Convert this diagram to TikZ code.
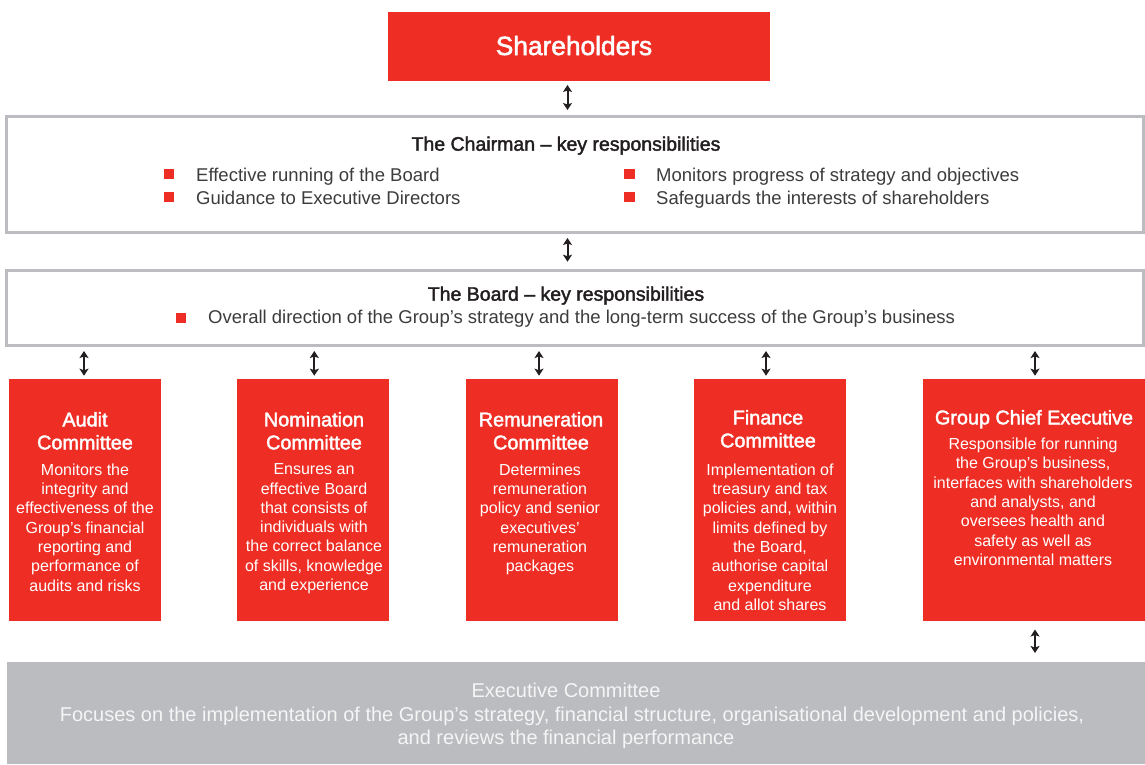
\documentclass[tikz,border=0pt]{standalone}
\usepackage{fontspec}
\setmainfont{Liberation Sans}
\newfontfamily\medfont[FakeBold=2]{Liberation Sans}
\usetikzlibrary{arrows.meta}

\definecolor{brandred}{HTML}{EE2E24}
\definecolor{framegray}{HTML}{BCBDC0}
\definecolor{execgray}{HTML}{BBBCBF}
\definecolor{inkdark}{HTML}{231F20}
\definecolor{inktext}{HTML}{3C3C3C}
\definecolor{execink}{HTML}{F5F5F6}

\begin{document}
\begin{tikzpicture}[x=1pt,y=-1pt,
  redbox/.style={fill=brandred, draw=none, inner sep=0pt, outer sep=0pt, anchor=north west},
  framebox/.style={draw=framegray, line width=3pt, fill=white, inner sep=0pt, outer sep=0pt, anchor=north west},
  bulletsq/.style={fill=brandred, draw=none, inner sep=0pt, outer sep=0pt, minimum width=10.5pt, minimum height=10pt},
  headtext/.style={font=\medfont\fontsize{19.5}{23}\selectfont, text=inkdark, anchor=base, inner sep=0pt},
  itemtext/.style={font=\fontsize{18.5}{22.5}\selectfont, text=inktext, anchor=base west, inner sep=0pt},
  comtitle/.style={font=\medfont\fontsize{19.8}{23}\selectfont, text=white, align=center, anchor=north, inner sep=0pt},
  combody/.style={font=\fontsize{16}{19.3}\selectfont, text=white, align=center, anchor=north, inner sep=0pt},
  exectext/.style={font=\fontsize{20}{23}\selectfont, text=execink, anchor=base, inner sep=0pt},
  twoway/.style={draw=inkdark, line width=2pt, {Stealth[length=7pt,width=9pt,inset=1.5pt]}-{Stealth[length=7pt,width=9pt,inset=1.5pt]}},
]
\useasboundingbox (0,0) rectangle (1145,764);

% Shareholders
\node[redbox, minimum width=382pt, minimum height=69pt] (share) at (388,12) {};
\node[font=\medfont\fontsize{26.3}{30}\selectfont, text=white, anchor=base, inner sep=0pt] (sharelabel) at (574,55) {Shareholders};

% Chairman
\node[framebox, minimum width=1137pt, minimum height=116pt] (chair) at (6.5,116) {};
\node[headtext] (chairtitle) at (566,150.7) {The Chairman – key responsibilities};
\node[bulletsq] (cb1) at (169,174) {};
\node[bulletsq] (cb2) at (169,196.7) {};
\node[bulletsq] (cb3) at (629.3,174) {};
\node[bulletsq] (cb4) at (629.3,196.7) {};
\node[itemtext] (ci1) at (196,181) {Effective running of the Board};
\node[itemtext] (ci2) at (196,204) {Guidance to Executive Directors};
\node[itemtext] (ci3) at (656,181) {Monitors progress of strategy and objectives};
\node[itemtext] (ci4) at (656,204) {Safeguards the interests of shareholders};

% Board
\node[framebox, minimum width=1137pt, minimum height=75pt] (board) at (6.5,270.5) {};
\node[headtext] (boardtitle) at (566,300.7) {The Board – key responsibilities};
\node[bulletsq] (bb1) at (181,318.3) {};
\node[itemtext] (bi1) at (208,323.5) {Overall direction of the Group’s strategy and the long-term success of the Group’s business};

% Committees
\node[redbox, minimum width=152pt, minimum height=241.5pt] (audit) at (9,379) {};
\node[redbox, minimum width=152pt, minimum height=241.5pt] (nom) at (237,379) {};
\node[redbox, minimum width=152pt, minimum height=241.5pt] (rem) at (466,379) {};
\node[redbox, minimum width=152pt, minimum height=241.5pt] (fin) at (694,379) {};
\node[redbox, minimum width=222pt, minimum height=241.5pt] (gce) at (923,379) {};

\node[comtitle] (audittitle) at (85,411.8) {Audit\\Committee};
\node[combody] (auditbody) at (85,463.5) {Monitors the\\integrity and\\effectiveness of the\\Group’s financial\\reporting and\\performance of\\audits and risks};

\node[comtitle] (nomtitle) at (314,411.8) {Nomination\\Committee};
\node[combody] (nombody) at (314,463.5) {Ensures an\\effective Board\\that consists of\\individuals with\\the correct balance\\of skills, knowledge\\and experience};

\node[comtitle] (remtitle) at (541,411.8) {Remuneration\\Committee};
\node[combody] (rembody) at (540,463.5) {Determines\\remuneration\\policy and senior\\executives’\\remuneration\\packages};

\node[comtitle] (fintitle) at (768,409.8) {Finance\\Committee};
\node[combody] (finbody) at (770,463.5) {Implementation of\\treasury and tax\\policies and, within\\limits defined by\\the Board,\\authorise capital\\expenditure\\and allot shares};

\node[comtitle] (gcetitle) at (1034,409.8) {Group Chief Executive};
\node[combody] (gcebody) at (1033,437.8) {Responsible for running\\the Group’s business,\\interfaces with shareholders\\and analysts, and\\oversees health and\\safety as well as\\environmental matters};

% Executive Committee
\node[fill=execgray, draw=none, inner sep=0pt, outer sep=0pt, anchor=north west, minimum width=1138pt, minimum height=102pt] (exec) at (7,662) {};
\node[exectext] (exectitle) at (566,697.7) {Executive Committee};
\node[exectext] (execl1) at (572,721) {Focuses on the implementation of the Group’s strategy, financial structure, organisational development and policies,};
\node[exectext] (execl2) at (566,744) {and reviews the financial performance};

% Connectors
\coordinate (spine) at (567.5,0);
\draw[twoway, shorten <=4pt, shorten >=6pt] (share.south -| spine) -- (chair.north -| spine);
\draw[twoway, shorten <=6pt, shorten >=8.8pt] (chair.south -| spine) -- (board.north -| spine);
\draw[twoway, shorten <=5.5pt, shorten >=3.3pt] ([xshift=-1pt]board.south -| audit.north) -- ([xshift=-1pt]audit.north);
\draw[twoway, shorten <=5.5pt, shorten >=3.3pt] ([xshift=1.3pt]board.south -| nom.north) -- ([xshift=1.3pt]nom.north);
\draw[twoway, shorten <=5.5pt, shorten >=3.3pt] ([xshift=-3pt]board.south -| rem.north) -- ([xshift=-3pt]rem.north);
\draw[twoway, shorten <=5.5pt, shorten >=3.3pt] ([xshift=-4pt]board.south -| fin.north) -- ([xshift=-4pt]fin.north);
\draw[twoway, shorten <=5.5pt, shorten >=3.3pt] ([xshift=1pt]board.south -| gce.north) -- ([xshift=1pt]gce.north);
\draw[twoway, shorten <=9pt, shorten >=9pt] ([xshift=1pt]gce.south) -- ([xshift=1pt]gce.south |- exec.north);

\end{tikzpicture}
\end{document}
